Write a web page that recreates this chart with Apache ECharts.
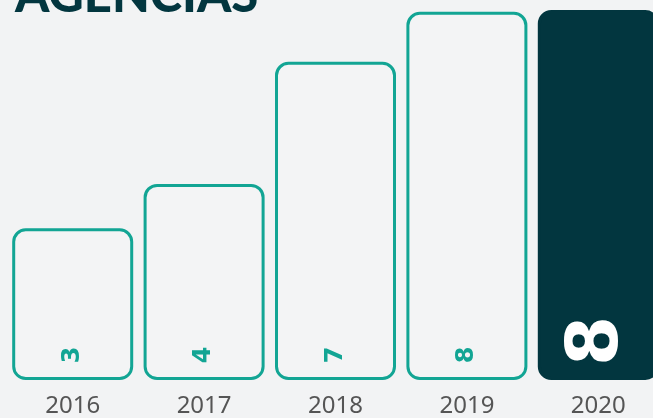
<!DOCTYPE html>
<html>
<head>
<meta charset="utf-8">
<script src="https://cdn.jsdelivr.net/npm/echarts@6/dist/echarts.min.js"></script>
<style>
  html, body { margin: 0; padding: 0; background: #f2f3f4; }
  #main { width: 653px; height: 418px; }
</style>
</head>
<body>
<div id="main"></div>
<script>
'use strict';

var years = ['2016', '2017', '2018', '2019', '2020'];
var heights = [4.1, 5.3, 8.6, 9.95, 10];
var labels = ['3', '4', '7', '8', '8'];

var teal = '#12a594';
var dark = '#02363f';

var chart = echarts.init(document.getElementById('main'));

var data = heights.map(function(h, i){
    var last = i === heights.length - 1;
    return {
        value: h,
        itemStyle: last ? {
            color: dark,
            borderColor: dark,
            borderWidth: 3
        } : {
            color: '#f3f4f5',
            borderColor: teal,
            borderWidth: 3
        },
        label: last ? {
            color: '#ffffff',
            fontSize: 72,
            distance: 39
        } : {}
    };
});

var option = {
    backgroundColor: '#f2f3f4',
    title: {
        text: 'AGENCIAS',
        left: 10,
        top: -33,
        textStyle: {
            color: dark,
            fontSize: 49,
            fontWeight: 900,
            fontFamily: 'Lato'
        }
    },
    grid: {
        left: 7,
        width: 657,
        top: 10,
        bottom: 38,
        containLabel: false,
        outerBoundsMode: 'none'
    },
    xAxis: {
        type: 'category',
        data: years,
        axisLine: { show: false },
        axisTick: { show: false },
        axisLabel: {
            color: '#555555',
            fontSize: 24,
            fontFamily: 'Noto Sans',
            margin: 14
        }
    },
    yAxis: {
        type: 'value',
        min: 0,
        max: 10,
        show: false,
        splitLine: { show: false }
    },
    series: [{
        type: 'bar',
        data: data,
        barWidth: 121,
        itemStyle: {
            borderRadius: 12
        },
        label: {
            show: true,
            position: 'insideBottom',
            rotate: 90,
            align: 'center',
            verticalAlign: 'middle',
            distance: 25,
            color: teal,
            fontSize: 24,
            fontWeight: 'bold',
            fontFamily: 'DejaVu Sans',
            formatter: function(p){
                return labels[p.dataIndex];
            }
        }
    }]
};

chart.setOption(option);
</script>
</body>
</html>
